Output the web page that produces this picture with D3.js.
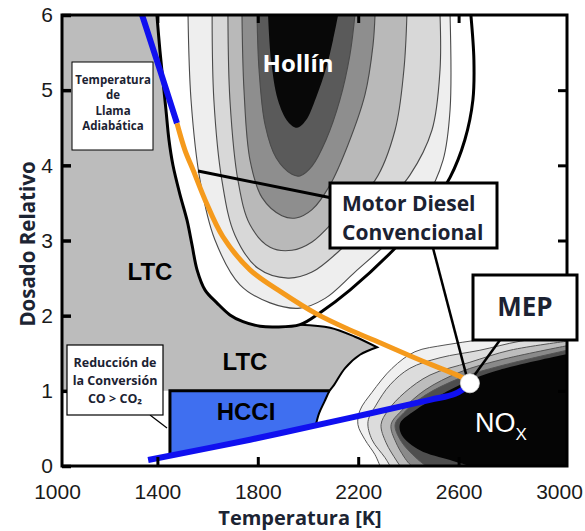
<!DOCTYPE html>
<html>
<head>
<meta charset="utf-8">
<script src="https://cdn.jsdelivr.net/npm/d3@7"></script>
<style>
  body { margin: 0; background: #fff; }
  svg { display: block; }
</style>
</head>
<body>
<div id="chart"></div>
<script>
// Eje X: temperatura [K], eje Y: dosado relativo
const xTicks = [1000, 1400, 1800, 2200, 2600, 3000];
const yTicks = [0, 1, 2, 3, 4, 5, 6];

// Limite de hollin (linea gruesa), puntos [T, dosado]
const sootBoundary = [[1398,6.0],[1410,5.53],[1422,5.13],[1434,4.74],[1446,4.34],[1462,4.00],[1490,3.61],[1518,3.27],[1538,2.94],[1558,2.61],
  [1590,2.34],[1637,2.17],[1689,2.01],[1741,1.92],[1809,1.86],[1869,1.85],[1968,1.88],
  [2048,2.04],[2167,2.34],[2339,2.87],[2466,3.34],[2566,3.84],[2625,4.34],[2657,4.87],[2661,5.40],[2649,6.0]];
const sootBottomIdx = 16;

// Isolineas de hollin, de fuera hacia dentro
const soot1 = [[1522,6.0],[1534,4.87],[1570,3.80],[1629,3.01],[1729,2.41],[1849,2.17],[1968,2.10],[2068,2.23],[2187,2.58],[2335,3.03],[2466,3.54],[2538,4.07],[2566,4.74],[2566,6.0]];
const soot2 = [[1618,6.0],[1625,4.87],[1657,3.80],[1709,3.07],[1801,2.63],[1920,2.50],[2016,2.58],[2127,2.87],[2267,3.34],[2406,3.87],[2494,4.47],[2526,5.27],[2526,6.0]];
const soot3 = [[1681,6.0],[1689,4.87],[1721,3.80],[1769,3.21],[1849,2.91],[1936,2.87],[2016,2.98],[2127,3.34],[2267,3.80],[2347,4.47],[2382,5.27],[2394,6.0]];
const soot4 = [[1737,6.0],[1745,5.0],[1769,4.07],[1817,3.57],[1896,3.33],[1952,3.30],[2016,3.41],[2088,3.74],[2159,4.27],[2227,4.94],[2259,5.60],[2267,6.0]];
const soot5 = [[1797,6.0],[1805,5.27],[1829,4.54],[1873,4.10],[1936,3.88],[1968,3.86],[2016,3.99],[2072,4.34],[2127,4.87],[2167,5.47],[2187,6.0]];
const soot6 = [[1841,6.0],[1853,5.40],[1880,4.87],[1920,4.58],[1956,4.50],[1992,4.60],[2032,4.90],[2072,5.29],[2100,5.67],[2120,6.0]];

// Isolineas de NOx (abiertas hacia la derecha)
const nox1 = [[3032,1.84],[2845,1.77],[2685,1.68],[2546,1.61],[2426,1.52],[2335,1.30],[2255,0.98],[2207,0.74],[2199,0.55],[2227,0.35],[2267,0.15],[2287,0.0]];
const nox2 = [[3032,1.74],[2845,1.66],[2685,1.54],[2526,1.44],[2406,1.30],[2327,1.08],[2271,0.81],[2239,0.59],[2255,0.35],[2307,0.11],[2327,0.0]];
const nox3 = [[3032,1.66],[2805,1.54],[2645,1.38],[2486,1.21],[2386,0.98],[2319,0.74],[2291,0.55],[2311,0.31],[2351,0.08],[2367,0.0]];
const nox4 = [[3032,1.60],[2765,1.41],[2606,1.25],[2466,1.01],[2374,0.74],[2331,0.55],[2351,0.31],[2398,0.05],[2414,0.0]];
const nox5 = [[3032,1.54],[2765,1.33],[2606,1.17],[2466,0.94],[2382,0.71],[2347,0.55],[2371,0.33],[2430,0.11],[2470,0.0]];
const nox6 = [[3032,1.49],[2765,1.28],[2645,1.14],[2526,0.94],[2426,0.74],[2367,0.57],[2374,0.41],[2446,0.21],[2566,0.08],[2645,0.0]];

// Zona LTC (gris) y HCCI
const ltcTop = [[1968,1.88],[2088,1.84],[2187,1.72],[2275,1.58]];
const rightCurve = [[2275,1.58],[2207,1.48],[2147,1.30],[2104,1.08],[2086,1.0],[2066,0.86],[2044,0.70],[2030,0.53]];
const hcciLeftT = 1450;

// Temperatura de llama adiabatica
const flameUpper = [[1339,6.0],[1410,5.27],[1478,4.56]];
const dieselPath = [[1478,4.56],[1510,4.20],[1542,3.94],[1590,3.54],[1661,3.05],[1769,2.61],[1900,2.30],[2036,2.02],[2167,1.81],[2287,1.64],[2446,1.41],[2618,1.17],[2645,1.10]];
const flameLower = [[1363,0.08],[1769,0.35],[2167,0.64],[2486,0.88],[2586,0.96],[2645,1.09]];
const mep = [2645, 1.10];

const sootFills = ["#eeeeee", "#d8d8d8", "#b9b9b9", "#8e8e8e", "#5a5a5a", "#080808"];
const noxFills = ["#f0f0f0", "#dcdcdc", "#bdbdbd", "#8a8a8a", "#4e4e4e", "#050505"];

const W = 585, H = 531;
const frame = {x0: 62, x1: 567, y0: 15, y1: 466};

const x = d3.scaleLinear().domain([1000, 3000]).range([57, 559]);
const y = d3.scaleLinear().domain([0, 6]).range([466, 15]);

const svg = d3.select("#chart").append("svg").attr("width", W).attr("height", H);

svg.append("defs").append("clipPath").attr("id", "clip")
  .append("rect").attr("x", frame.x0).attr("y", frame.y0)
  .attr("width", frame.x1 - frame.x0).attr("height", frame.y1 - frame.y0);

const curve = d3.line().x(d => x(d[0])).y(d => y(d[1])).curve(d3.curveCatmullRom.alpha(0.5));
const lin = d3.line().x(d => x(d[0])).y(d => y(d[1]));
const cont = p => p.replace(/^M/, "L");

const plot = svg.append("g").attr("clip-path", "url(#clip)");
plot.append("rect").attr("x", frame.x0).attr("y", frame.y0)
  .attr("width", frame.x1 - frame.x0).attr("height", frame.y1 - frame.y0).attr("fill", "#fff");

// rellenos de hollin
const sootLevels = [soot1, soot2, soot3, soot4, soot5, soot6];
sootLevels.forEach((lv, i) => {
  plot.append("path").attr("d", curve(lv) + "Z").attr("fill", sootFills[i])
    .attr("stroke", i < 5 ? "#4a4a4a" : "none").attr("stroke-width", 1.1);
});

// rellenos de NOx
const noxLevels = [nox1, nox2, nox3, nox4, nox5, nox6];
noxLevels.forEach((lv, i) => {
  const d = curve(lv) + cont(lin([[lv[lv.length - 1][0], 0], [3032, 0]])) + "Z";
  plot.append("path").attr("d", d).attr("fill", noxFills[i])
    .attr("stroke", i < 5 ? "#555" : "none").attr("stroke-width", 1);
});

// region LTC gris
const ltcPath = lin([[1000, 6], sootBoundary[0]]) +
  cont(curve(sootBoundary.slice(0, sootBottomIdx + 1))) +
  cont(curve(ltcTop)) +
  cont(curve(rightCurve.slice(0, 5))) +
  cont(lin([rightCurve[4], [1000, 1]])) + "Z";
plot.append("path").attr("d", ltcPath).attr("fill", "#bcbcbc");

// region HCCI
const hcciPath = lin([[hcciLeftT, 1], rightCurve[4]]) +
  cont(curve(rightCurve.slice(4))) +
  cont(lin([rightCurve[rightCurve.length - 1], flameLower[1], [hcciLeftT, 0.14]])) + "Z";
plot.append("path").attr("d", hcciPath).attr("fill", "#3f6ff0");

// lineas negras de frontera
plot.append("path").attr("d", curve(sootBoundary)).attr("fill", "none")
  .attr("stroke", "#000").attr("stroke-width", 3);
plot.append("path").attr("d", curve(ltcTop) + cont(curve(rightCurve))).attr("fill", "none")
  .attr("stroke", "#000").attr("stroke-width", 2);
plot.append("path").attr("d", lin([[hcciLeftT, 0.14], [hcciLeftT, 1], rightCurve[4]])).attr("fill", "none")
  .attr("stroke", "#000").attr("stroke-width", 3);

// temperatura de llama adiabatica
plot.append("path").attr("d", lin(flameUpper)).attr("fill", "none")
  .attr("stroke", "#1010f0").attr("stroke-width", 6);
plot.append("path").attr("d", curve(flameLower)).attr("fill", "none")
  .attr("stroke", "#1010f0").attr("stroke-width", 6);
plot.append("path").attr("d", curve(dieselPath)).attr("fill", "none")
  .attr("stroke", "#f59a1c").attr("stroke-width", 5);

// text inside plot
const boldSans = "'Liberation Sans', Arial, sans-serif";
const humanist = "'Open Sans', sans-serif";
svg.append("text").attr("x", 298).attr("y", 72).attr("text-anchor", "middle")
  .attr("font-family", humanist).attr("font-weight", 700).attr("font-size", 24)
  .attr("fill", "#fff").text("Hollín");
svg.append("text").attr("x", 150).attr("y", 280).attr("text-anchor", "middle")
  .attr("font-family", boldSans).attr("font-weight", 700).attr("font-size", 24).text("LTC");
svg.append("text").attr("x", 245).attr("y", 370).attr("text-anchor", "middle")
  .attr("font-family", boldSans).attr("font-weight", 700).attr("font-size", 24).text("LTC");
svg.append("text").attr("x", 246).attr("y", 420).attr("text-anchor", "middle")
  .attr("font-family", boldSans).attr("font-weight", 700).attr("font-size", 24).text("HCCI");
const nox = svg.append("text").attr("x", 475).attr("y", 432)
  .attr("font-family", boldSans).attr("font-size", 27).attr("fill", "#fff");
nox.append("tspan").text("NO");
nox.append("tspan").attr("font-size", 17).attr("dy", 8).text("X");

// marco y ticks
svg.append("rect").attr("x", frame.x0).attr("y", frame.y0)
  .attr("width", frame.x1 - frame.x0).attr("height", frame.y1 - frame.y0)
  .attr("fill", "none").attr("stroke", "#000").attr("stroke-width", 3);

const tickFont = "'Liberation Sans', Arial, sans-serif";
const inner = xTicks.slice(1, -1);
svg.append("g").attr("transform", `translate(0,${frame.y1})`)
  .call(d3.axisBottom(x).tickValues(xTicks).tickSizeInner(-9).tickSizeOuter(0).tickPadding(18).tickFormat(d3.format("d")))
  .call(g => g.select(".domain").remove())
  .call(g => g.selectAll(".tick line").attr("stroke-width", 3).style("display", d => inner.includes(d) ? null : "none"))
  .call(g => g.selectAll("text").attr("font-family", tickFont).attr("font-size", 21).attr("fill", "#1a1a1a"));
svg.append("g").attr("transform", `translate(0,${frame.y0})`)
  .call(d3.axisTop(x).tickValues(inner).tickSizeInner(-8).tickSizeOuter(0).tickFormat(""))
  .call(g => g.select(".domain").remove())
  .call(g => g.selectAll(".tick line").attr("stroke-width", 3));
svg.append("g").attr("transform", `translate(${frame.x0},0)`)
  .call(d3.axisLeft(y).tickValues(yTicks).tickSizeInner(-9).tickSizeOuter(0).tickPadding(9).tickFormat(d3.format("d")))
  .call(g => g.select(".domain").remove())
  .call(g => g.selectAll(".tick line").attr("stroke-width", 3.5))
  .call(g => g.selectAll("text").attr("font-family", tickFont).attr("font-size", 21).attr("fill", "#1a1a1a"));
svg.append("g").attr("transform", `translate(${frame.x1},0)`)
  .call(d3.axisRight(y).tickValues(yTicks.slice(1, -1)).tickSizeInner(-9).tickSizeOuter(0).tickFormat(""))
  .call(g => g.select(".domain").remove())
  .call(g => g.selectAll(".tick line").attr("stroke-width", 3));

// titulos de ejes
svg.append("text").attr("x", 300).attr("y", 525).attr("text-anchor", "middle")
  .attr("font-family", humanist).attr("font-weight", 700).attr("font-size", 20)
  .attr("fill", "#1c2433").text("Temperatura [K]");
svg.append("text").attr("transform", "translate(35,244) rotate(-90)").attr("text-anchor", "middle")
  .attr("font-family", humanist).attr("font-weight", 700).attr("font-size", 20.5)
  .attr("fill", "#1c2433").text("Dosado Relativo");

// lineas de llamada
const callout = svg.append("g").attr("stroke", "#000").attr("fill", "none");
callout.append("line").attr("x1", 198).attr("y1", 171).attr("x2", 332).attr("y2", 198).attr("stroke-width", 3);
callout.append("line").attr("x1", 433).attr("y1", 248).attr("x2", x(mep[0]) - 3).attr("y2", y(mep[1]) - 6).attr("stroke-width", 2.5);
callout.append("line").attr("x1", 500).attr("y1", 340).attr("x2", x(mep[0]) + 3).attr("y2", y(mep[1]) - 6).attr("stroke-width", 2.5);
callout.append("line").attr("x1", 150).attr("y1", 415).attr("x2", 167).attr("y2", 428).attr("stroke-width", 1.2);

// punto MEP
svg.append("circle").attr("cx", x(mep[0])).attr("cy", y(mep[1])).attr("r", 9.5)
  .attr("fill", "#fff").attr("stroke", "#ddd").attr("stroke-width", 0.8);

// cajas de texto
function box(x0, y0, w, h, sw, lines, size, cx, baselines, anchor) {
  svg.append("rect").attr("x", x0).attr("y", y0).attr("width", w).attr("height", h)
    .attr("fill", "#fff").attr("stroke", "#000").attr("stroke-width", sw);
  lines.forEach((t, i) => {
    svg.append("text").attr("x", cx).attr("y", baselines[i]).attr("text-anchor", anchor || "middle")
      .attr("font-family", humanist).attr("font-weight", 700).attr("font-size", size)
      .attr("fill", "#1b2232").text(t);
  });
}
box(72, 62, 81, 88, 1, ["Temperatura", "de", "Llama", "Adiabática"], 11.5, 113, [84, 99, 115, 130]);
box(67, 345, 96, 70, 1.2, ["Reducción de", "la Conversión", "CO > CO₂"], 12.5, 115, [367, 385, 403]);
box(330, 183, 167, 65, 3, ["Motor Diesel", "Convencional"], 21, 342, [211, 240], "start");
box(473, 275, 104, 65, 3, ["MEP"], 26, 525, [316]);
</script>
</body>
</html>
